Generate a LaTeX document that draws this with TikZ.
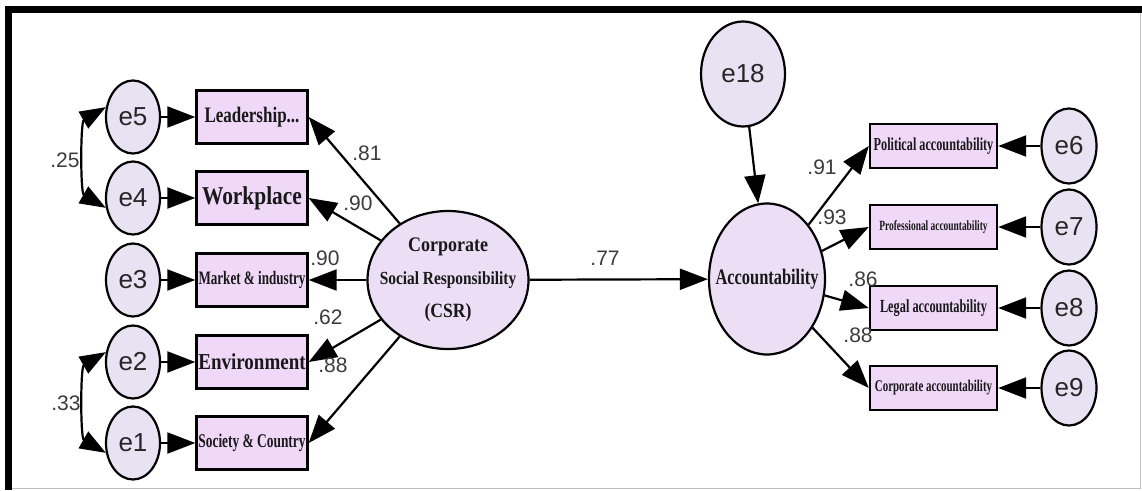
\documentclass[tikz,border=0pt]{standalone}
\usepackage{fontspec}
\setmainfont{Liberation Serif}
\setsansfont{Liberation Sans}
\usetikzlibrary{arrows.meta,shapes.geometric}
\definecolor{obsfill}{RGB}{240,216,248}
\definecolor{errfill}{RGB}{232,226,242}
\definecolor{latfill}{RGB}{236,222,244}
\definecolor{coefgray}{RGB}{60,60,60}
\newcommand{\fs}[1]{\fontsize{#1}{#1}\selectfont}
% narrow, tall lettering for the variable names
\newcommand{\tall}[2]{\scalebox{1}[#1]{#2}}

\begin{document}
\begin{tikzpicture}[x=1pt,y=-1pt,
  obs/.style={draw, line width=2.4pt, fill=obsfill, inner sep=0pt, font=\bfseries, text=black!90},
  lobs/.style={obs, minimum width=111pt, minimum height=53pt},
  robs/.style={obs, minimum width=127pt, minimum height=44pt},
  err/.style={draw, ellipse, line width=2.2pt, fill=errfill, inner sep=0pt,
    minimum width=54pt, minimum height=73pt,
    font=\sffamily\fs{26}, text=black!85},
  lat/.style={draw, ellipse, line width=2.2pt, fill=latfill, inner sep=0pt},
  lattext/.style={font=\bfseries, text=black!90, inner sep=0pt},
  reg/.style={line width=2.2pt, -{Triangle[length=28pt,width=21pt]}},
  cov/.style={line width=2.2pt,
    {Triangle[length=26pt,width=19pt]}-{Triangle[length=26pt,width=19pt]}},
  coef/.style={font=\sffamily\fs{21}, text=coefgray, inner sep=0pt}
]
\useasboundingbox (0,0) rectangle (1142,490);
\fill[white] (0,0) rectangle (1142,490);

% frame
\fill[black] (5,6) rectangle (1142,13);
\fill[black] (5,6) rectangle (12,490);
\draw[black!25, line width=1pt] (1140,13) -- (1140,488) -- (12,488);

% CSR indicators
\node[lobs] (leader) at (252,117) {\fs{17}\tall{1.3}{Leadership...}};
\node[lobs] (work)   at (252,198) {\fs{21.4}\tall{1.2}{Workplace}};
\node[lobs] (market) at (252,280) {\fs{13.1}\tall{1.45}{Market \& industry}};
\node[lobs] (env)    at (252,362) {\fs{19}\tall{1.2}{Environment}};
\node[lobs] (soc)    at (252,443) {\fs{13.4}\tall{1.45}{Society \& Country}};

\node[err] (e5) at (133,117) {e5};
\node[err] (e4) at (133,198) {e4};
\node[err] (e3) at (133,280) {e3};
\node[err] (e2) at (133,362) {e2};
\node[err] (e1) at (133,443) {e1};

% latent variables
\node[lat, minimum width=161pt, minimum height=138pt] (csr) at (448,280) {};
\node[lattext, font=\bfseries\fs{18}] (csr1) at (448,247) {\tall{1.15}{Corporate}};
\node[lattext, font=\bfseries\fs{15.4}] (csr2) at (448,280) {\tall{1.2}{Social Responsibility}};
\node[lattext, font=\bfseries\fs{17.6}] (csr3) at (448,313) {\tall{1.15}{(CSR)}};

\node[lat, minimum width=116pt, minimum height=151pt] (acc) at (767,279) {};
\node[lattext] (acctext) at (acc.center) {\fs{16.4}\tall{1.35}{Accountability}};

\node[err, minimum width=84pt, minimum height=105pt] (e18) at (743,74) {e18};

% accountability indicators
\node[robs] (pol)   at (933.5,146) {\fs{12.2}\tall{1.5}{Political accountability}};
\node[robs] (prof)  at (933.5,227) {\fs{9.4}\tall{1.5}{Professional accountability}};
\node[robs] (legal) at (933.5,308) {\fs{12.3}\tall{1.5}{Legal accountability}};
\node[robs] (corp)  at (933.5,388) {\fs{10.9}\tall{1.5}{Corporate accountability}};

\node[err, minimum width=55pt, minimum height=75pt] (e6) at (1069,146) {e6};
\node[err, minimum width=55pt, minimum height=75pt] (e7) at (1069,227) {e7};
\node[err, minimum width=55pt, minimum height=75pt] (e8) at (1069,308) {e8};
\node[err, minimum width=55pt, minimum height=75pt] (e9) at (1069,388) {e9};

% error terms
\foreach \e/\b in {e5/leader,e4/work,e3/market,e2/env,e1/soc,e6/pol,e7/prof,e8/legal,e9/corp}
  \draw[reg] (\e) -- (\b);
\draw[reg] (e18) -- (acc);

% loadings
\foreach \b in {leader,work,market,env,soc}
  \draw[reg] (csr) -- (\b.east);
\foreach \b in {pol,prof,legal,corp}
  \draw[reg] (acc) -- (\b.west);

% structural path
\draw[reg] (csr) -- (acc);

% error covariances
\draw[cov] (e5.160) to[out=210,in=150,looseness=0.75] (e4.200);
\draw[cov] (e2.160) to[out=210,in=150,looseness=0.75] (e1.200);

% coefficients
\node[coef] (c25) at (65,160) {.25};
\node[coef] (c33) at (66,403) {.33};
\node[coef] (c81) at (367,153) {.81};
\node[coef] (c90a) at (358,203) {.90};
\node[coef] (c90b) at (325,258) {.90};
\node[coef] (c62) at (328,317) {.62};
\node[coef] (c88a) at (333,365) {.88};
\node[coef] (c77) at (605,258) {.77};
\node[coef] (c91) at (822,167) {.91};
\node[coef] (c93) at (832,217) {.93};
\node[coef] (c86) at (863,279) {.86};
\node[coef] (c88b) at (858,335) {.88};
\end{tikzpicture}
\end{document}
